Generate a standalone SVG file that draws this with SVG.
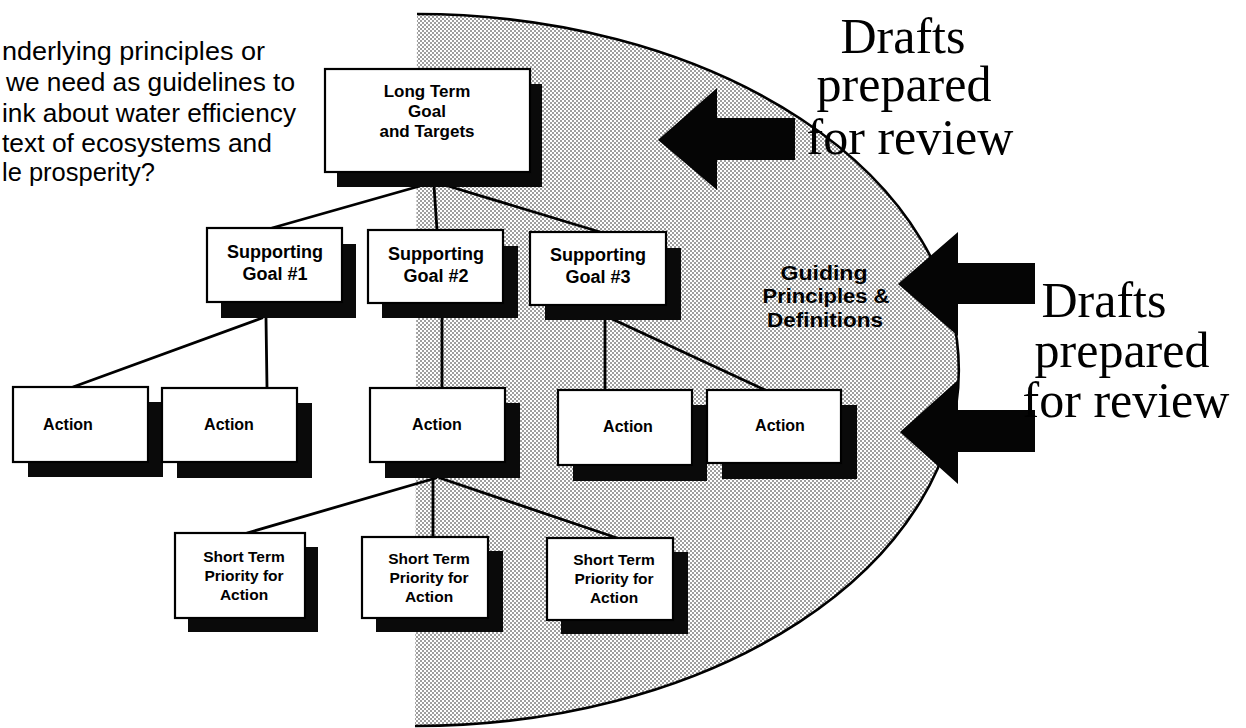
<svg xmlns="http://www.w3.org/2000/svg" width="1246" height="728" viewBox="0 0 1246 728">
  <defs>
    <pattern id="dots" width="4" height="4" patternUnits="userSpaceOnUse">
      <rect width="4" height="4" fill="#ffffff"/>
      <circle cx="1" cy="1" r="0.8" fill="#222"/>
      <circle cx="3" cy="3" r="0.8" fill="#222"/>
    </pattern>
    <style>
      .box { fill: #ffffff; stroke: #000; stroke-width: 2.2; }
      .shadow { fill: #0a0a0a; }
      .lbl { font-family: "Liberation Sans", Arial, sans-serif; font-weight: bold; fill: #000; text-anchor: middle; }
      .big { font-family: "Liberation Serif", "Times New Roman", serif; font-size: 50px; fill: #000; text-anchor: middle; }
      .note { font-family: "Liberation Sans", Arial, sans-serif; font-size: 25px; fill: #000; }
      .conn { stroke: #000; stroke-width: 2.8; fill: none; stroke-linecap: round; }
      .arrow { fill: #050505; }
    </style>
  </defs>

  <rect width="1246" height="728" fill="#ffffff"/>

  <!-- shaded region -->
  <g id="shaded-region">
    <path d="M 417 14 A 543 356 0 0 1 415 726 Z" fill="url(#dots)"/>
    <path d="M 417 14 A 543 356 0 0 1 415 726" fill="none" stroke="#000" stroke-width="2.6"/>
  </g>

  <!-- question text -->
  <g id="question">
    <text class="note" x="2" y="60" textLength="263" lengthAdjust="spacingAndGlyphs">nderlying principles or</text>
    <text class="note" x="6" y="91" textLength="289" lengthAdjust="spacingAndGlyphs">we need as guidelines to</text>
    <text class="note" x="2" y="122" textLength="294" lengthAdjust="spacingAndGlyphs">ink about water efficiency</text>
    <text class="note" x="2" y="152" textLength="270" lengthAdjust="spacingAndGlyphs">text of ecosystems and</text>
    <text class="note" x="2" y="181" textLength="153" lengthAdjust="spacingAndGlyphs">le prosperity?</text>
  </g>

  <!-- connectors -->
  <g id="connectors">
    <line class="conn" x1="420" y1="186" x2="272" y2="228"/>
    <line class="conn" x1="434" y1="186" x2="437" y2="230"/>
    <line class="conn" x1="448" y1="186" x2="600" y2="232"/>
    <line class="conn" x1="262" y1="318" x2="73" y2="387"/>
    <line class="conn" x1="266" y1="318" x2="267" y2="388"/>
    <line class="conn" x1="442" y1="318" x2="442" y2="388"/>
    <line class="conn" x1="605" y1="320" x2="605" y2="390"/>
    <line class="conn" x1="610" y1="318" x2="765" y2="390"/>
    <line class="conn" x1="436" y1="478" x2="247" y2="533"/>
    <line class="conn" x1="433" y1="478" x2="433" y2="537"/>
    <line class="conn" x1="440" y1="478" x2="617" y2="538"/>
  </g>

  <!-- nodes -->
  <g id="long-term">
    <rect class="shadow" x="337" y="84" width="205" height="103"/>
    <rect class="box" x="325" y="69" width="205" height="103"/>
    <text class="lbl" font-size="17" x="427" y="97">Long Term</text>
    <text class="lbl" font-size="17" x="427" y="117">Goal</text>
    <text class="lbl" font-size="17" x="427" y="137">and Targets</text>
  </g>

  <g id="supporting-1">
    <rect class="shadow" x="221" y="244" width="135" height="74"/>
    <rect class="box" x="207" y="228" width="135" height="74"/>
    <text class="lbl" font-size="18" x="275" y="258">Supporting</text>
    <text class="lbl" font-size="18" x="275" y="280">Goal #1</text>
  </g>
  <g id="supporting-2">
    <rect class="shadow" x="382" y="246" width="136" height="72"/>
    <rect class="box" x="368" y="230" width="135" height="73"/>
    <text class="lbl" font-size="18" x="436" y="260">Supporting</text>
    <text class="lbl" font-size="18" x="436" y="282">Goal #2</text>
  </g>
  <g id="supporting-3">
    <rect class="shadow" x="545" y="248" width="136" height="72"/>
    <rect class="box" x="530" y="232" width="136" height="73"/>
    <text class="lbl" font-size="18" x="598" y="261">Supporting</text>
    <text class="lbl" font-size="18" x="598" y="283">Goal #3</text>
  </g>

  <g id="action-1">
    <rect class="shadow" x="28" y="402" width="135" height="75"/>
    <rect class="box" x="13" y="387" width="135" height="75"/>
    <text class="lbl" font-size="16" x="68" y="430">Action</text>
  </g>
  <g id="action-2">
    <rect class="shadow" x="177" y="403" width="135" height="75"/>
    <rect class="box" x="162" y="388" width="135" height="74"/>
    <text class="lbl" font-size="16" x="229" y="430">Action</text>
  </g>
  <g id="action-3">
    <rect class="shadow" x="385" y="403" width="135" height="75"/>
    <rect class="box" x="370" y="388" width="135" height="74"/>
    <text class="lbl" font-size="16" x="437" y="430">Action</text>
  </g>
  <g id="action-4">
    <rect class="shadow" x="573" y="405" width="134" height="76"/>
    <rect class="box" x="558" y="390" width="134" height="75"/>
    <text class="lbl" font-size="16" x="628" y="432">Action</text>
  </g>
  <g id="action-5">
    <rect class="shadow" x="722" y="405" width="135" height="74"/>
    <rect class="box" x="707" y="390" width="134" height="73"/>
    <text class="lbl" font-size="16" x="780" y="431">Action</text>
  </g>

  <g id="short-term-1">
    <rect class="shadow" x="188" y="547" width="130" height="85"/>
    <rect class="box" x="175" y="533" width="130" height="85"/>
    <text class="lbl" font-size="15.5" x="244" y="562">Short Term</text>
    <text class="lbl" font-size="15.5" x="244" y="581">Priority for</text>
    <text class="lbl" font-size="15.5" x="244" y="600">Action</text>
  </g>
  <g id="short-term-2">
    <rect class="shadow" x="376" y="551" width="127" height="81"/>
    <rect class="box" x="362" y="537" width="126" height="81"/>
    <text class="lbl" font-size="15.5" x="429" y="564">Short Term</text>
    <text class="lbl" font-size="15.5" x="429" y="583">Priority for</text>
    <text class="lbl" font-size="15.5" x="429" y="602">Action</text>
  </g>
  <g id="short-term-3">
    <rect class="shadow" x="561" y="552" width="127" height="82"/>
    <rect class="box" x="547" y="538" width="126" height="82"/>
    <text class="lbl" font-size="15.5" x="614" y="565">Short Term</text>
    <text class="lbl" font-size="15.5" x="614" y="584">Priority for</text>
    <text class="lbl" font-size="15.5" x="614" y="603">Action</text>
  </g>

  <g id="guiding-principles">
    <text class="lbl" font-size="20" x="824" y="280" textLength="87" lengthAdjust="spacingAndGlyphs">Guiding</text>
    <text class="lbl" font-size="20" x="826" y="303" textLength="127" lengthAdjust="spacingAndGlyphs">Principles &amp;</text>
    <text class="lbl" font-size="20" x="825" y="327" textLength="116" lengthAdjust="spacingAndGlyphs">Definitions</text>
  </g>

  <!-- big arrows -->
  <g id="arrow-top">
    <polygon class="arrow" points="658,140 717,88 717,118 795,118 795,160 717,160 717,190"/>
  </g>
  <g id="arrow-mid">
    <polygon class="arrow" points="898,284 958,232 958,263 1035,263 1035,304 958,304 958,336"/>
  </g>
  <g id="arrow-low">
    <polygon class="arrow" points="900,432 958,380 958,410 1035,410 1035,452 958,452 958,484"/>
  </g>

  <g id="drafts-top">
    <text class="big" x="903" y="53">Drafts</text>
    <text class="big" x="904" y="101">prepared</text>
    <text class="big" x="910" y="154">for review</text>
  </g>
  <g id="drafts-right">
    <text class="big" x="1104" y="317">Drafts</text>
    <text class="big" x="1122" y="367">prepared</text>
    <text class="big" x="1126" y="417">for review</text>
  </g>
</svg>
